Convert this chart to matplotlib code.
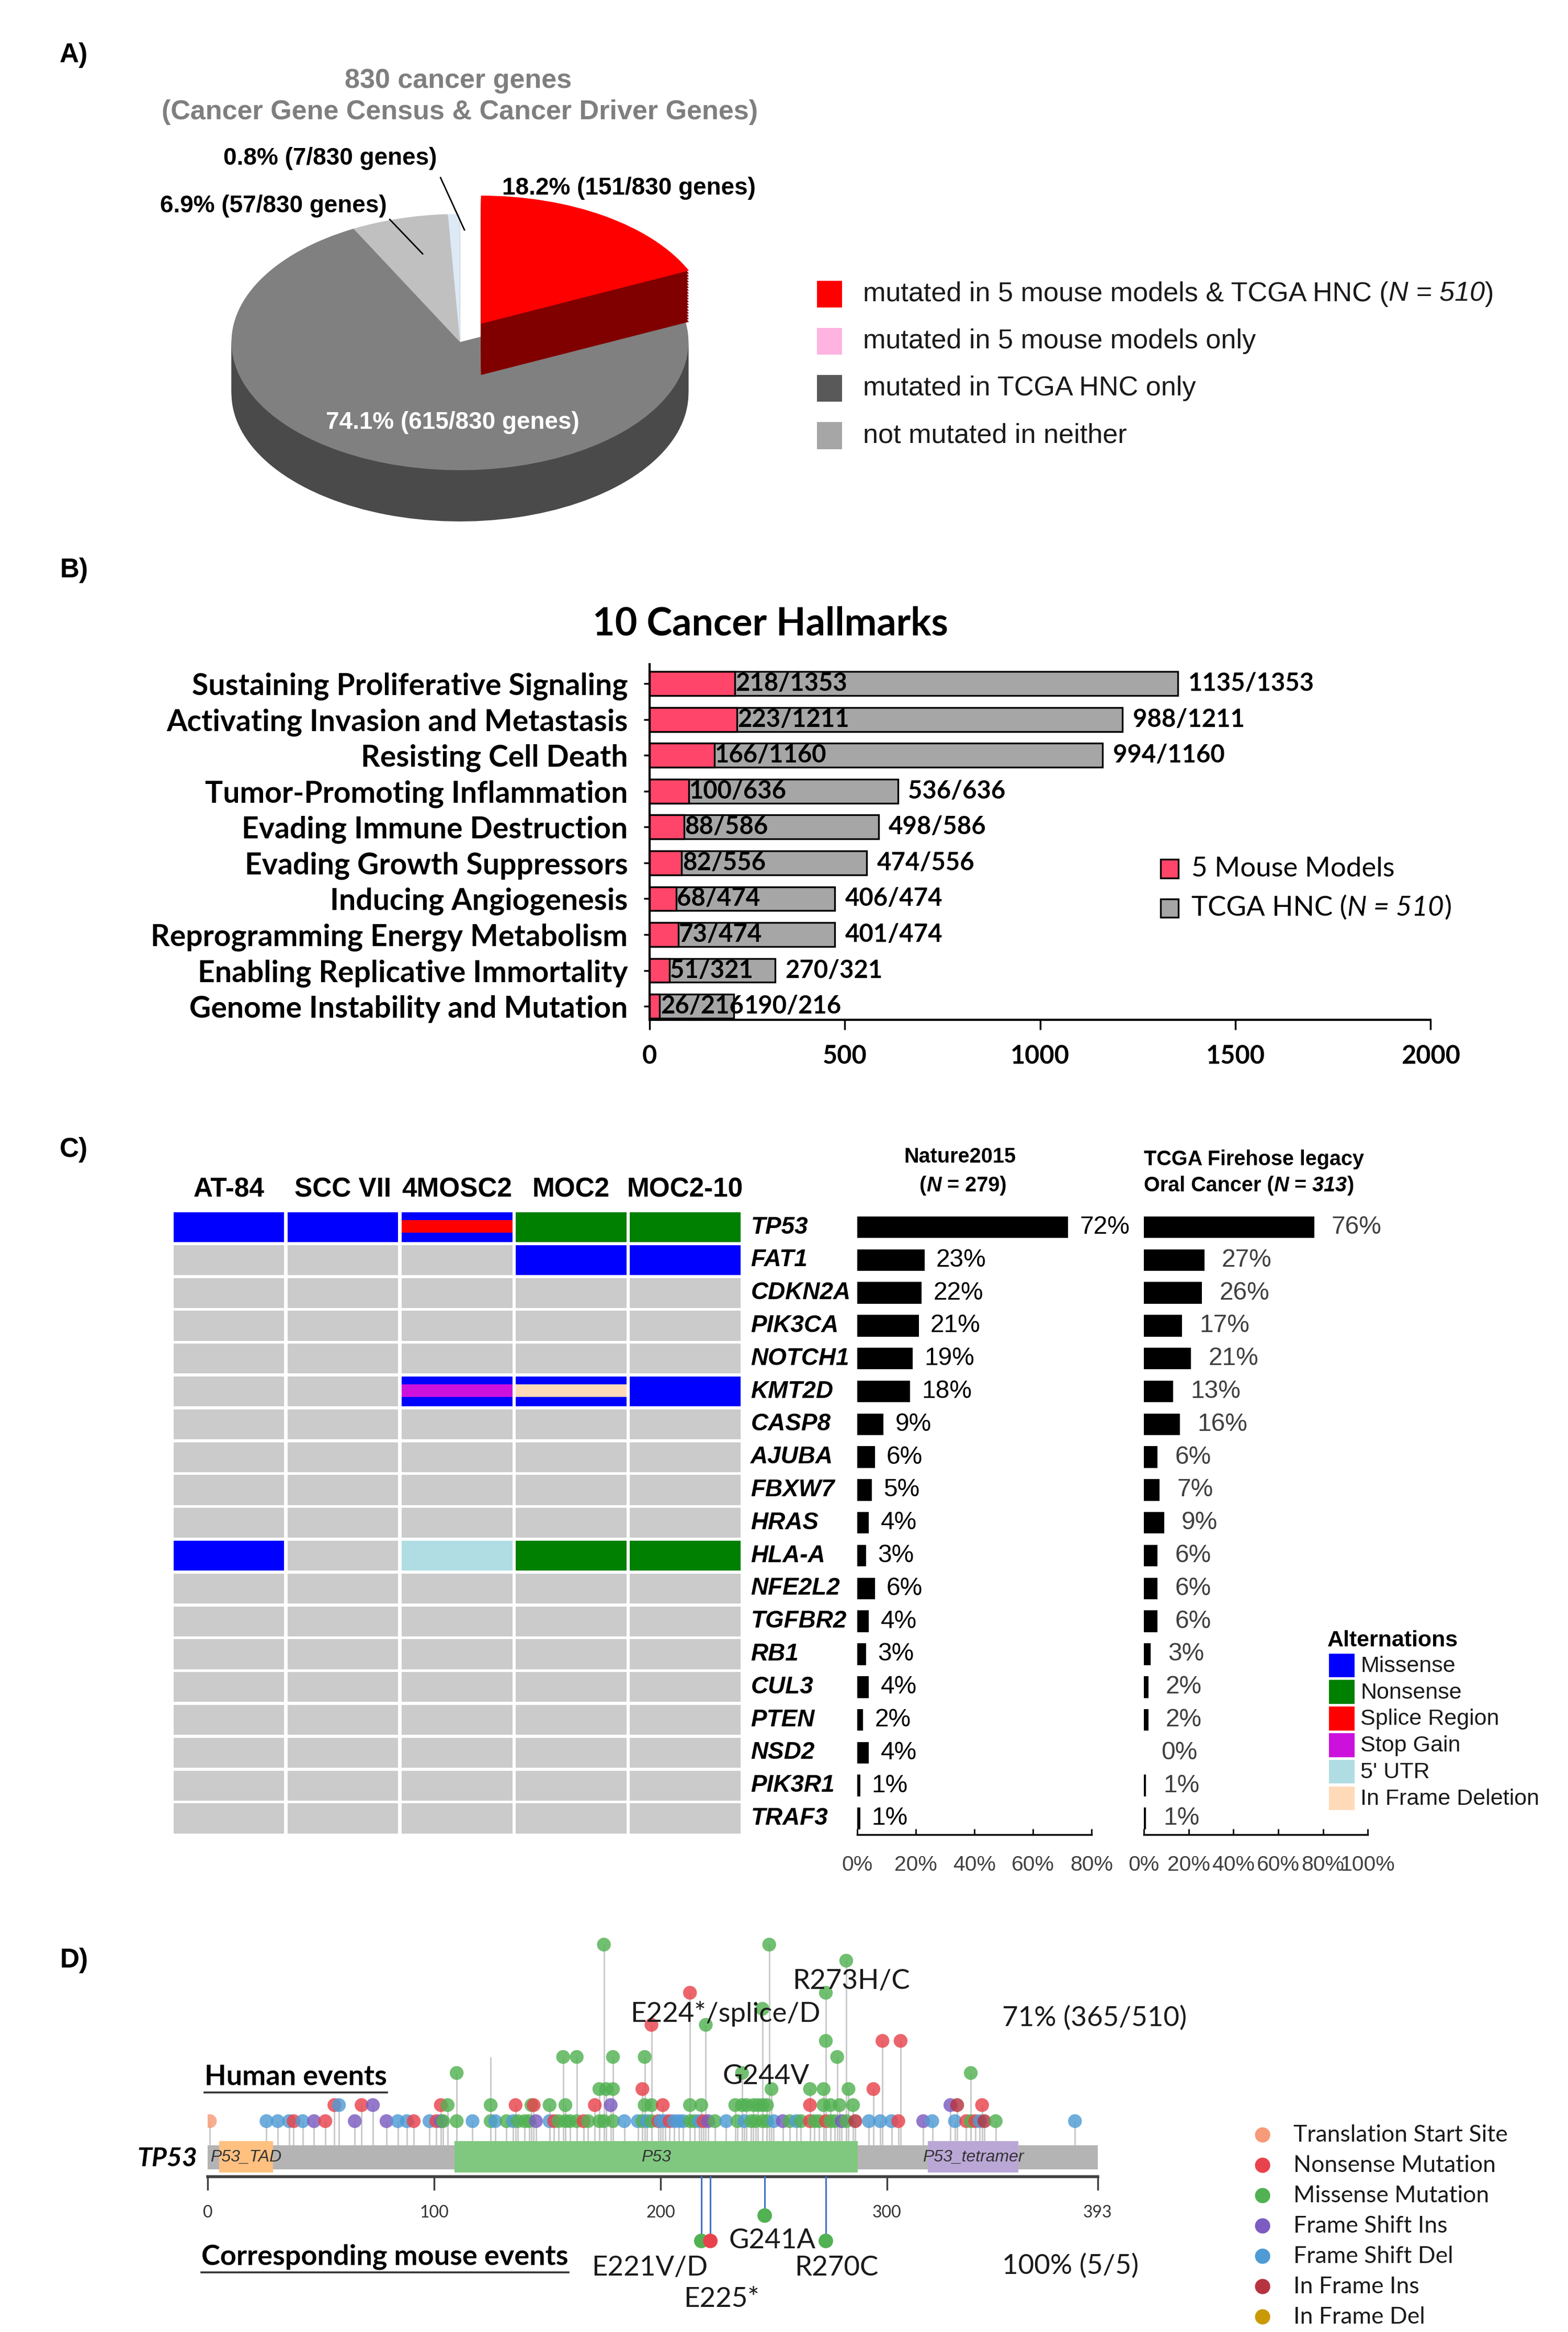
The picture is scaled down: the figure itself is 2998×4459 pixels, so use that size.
import numpy as np
import matplotlib
matplotlib.use("Agg")
import matplotlib.pyplot as plt
from matplotlib import font_manager as fm
from matplotlib.patches import Rectangle
from matplotlib.lines import Line2D

# ====================== DATA ======================
# Panel A
pie_counts = [151, 615, 57, 7]          # clockwise from 12 o'clock
pie_total = 830
pie_top_colors = ["#ff0000", "#808080", "#c0c0c0", "#dde9f5"]
pie_side_colors = ["#800000", "#4a4a4a", "#8e8e8e", "#aab6c4"]
pie_explode = [0.17, 0, 0, 0]
legend_a_labels = ["mutated in 5 mouse models & TCGA HNC", "mutated in 5 mouse models only",
                   "mutated in TCGA HNC only", "not mutated in neither"]
legend_a_colors = ["#ff0000", "#ffb3e0", "#595959", "#a6a6a6"]

# Panel B
hallmarks = ["Sustaining Proliferative Signaling", "Activating Invasion and Metastasis",
             "Resisting Cell Death", "Tumor-Promoting Inflammation", "Evading Immune Destruction",
             "Evading Growth Suppressors", "Inducing Angiogenesis", "Reprogramming Energy Metabolism",
             "Enabling Replicative Immortality", "Genome Instability and Mutation"]
hallmark_mouse = [218, 223, 166, 100, 88, 82, 68, 73, 51, 26]
hallmark_tcga = [1135, 988, 994, 536, 498, 474, 406, 401, 270, 190]
hallmark_total = [1353, 1211, 1160, 636, 586, 556, 474, 474, 321, 216]
hallmark_ticks = [0, 500, 1000, 1500, 2000]

# Panel C
cell_lines = ["AT-84", "SCC VII", "4MOSC2", "MOC2", "MOC2-10"]
genes = ["TP53", "FAT1", "CDKN2A", "PIK3CA", "NOTCH1", "KMT2D", "CASP8", "AJUBA", "FBXW7", "HRAS",
         "HLA-A", "NFE2L2", "TGFBR2", "RB1", "CUL3", "PTEN", "NSD2", "PIK3R1", "TRAF3"]
nature_pct = [72, 23, 22, 21, 19, 18, 9, 6, 5, 4, 3, 6, 4, 3, 4, 2, 4, 1, 1]
tcga_pct = [76, 27, 26, 17, 21, 13, 16, 6, 7, 9, 6, 6, 6, 3, 2, 2, 0, 1, 1]
onco_main = {
    "TP53": ["Missense", "Missense", "Missense", "Nonsense", "Nonsense"],
    "FAT1": ["", "", "", "Missense", "Missense"],
    "KMT2D": ["", "", "Missense", "Missense", "Missense"],
    "HLA-A": ["Missense", "", "5' UTR", "Nonsense", "Nonsense"],
}
onco_stripe = {
    "TP53": ["", "", "Splice Region", "", ""],
    "KMT2D": ["", "", "Stop Gain", "In Frame Deletion", ""],
}
alt_names = ["Missense", "Nonsense", "Splice Region", "Stop Gain", "5' UTR", "In Frame Deletion"]
alt_colors = ["#0000ff", "#008000", "#ff0000", "#cc11dd", "#b0dde3", "#ffdab9"]
nature_ticks = [0, 20, 40, 60, 80]
tcga_ticks = [0, 20, 40, 60, 80, 100]

# Panel D  (human TP53 lollipops: position, count, type)
lolli_pos = [1, 26, 31, 36, 38, 42, 47, 52, 65, 79, 84, 88, 91, 98, 101, 103, 104, 110, 117, 125,
             127, 132, 135, 137, 140, 142, 145, 151, 153, 155, 158, 160, 163, 166, 168, 173, 175, 179,
             184, 190, 192, 194, 196, 199, 200, 202, 204, 206, 208, 210, 213, 215, 217, 219, 221, 224,
             229, 234, 237, 240, 242, 245, 247, 250, 254, 257, 260, 262, 266, 268, 270, 273, 275, 277,
             280, 282, 286, 292, 297, 302, 305, 316, 320, 330, 335, 337, 339, 341, 343, 348, 383,
             56, 58, 68, 73, 103, 106, 125, 136, 143, 144, 151, 158, 171, 178, 193, 196, 201, 213, 218,
             233, 236, 238, 241, 243, 245, 247, 266, 272, 275, 279, 285, 328, 331, 342,
             173, 176, 179, 192, 249, 266, 272, 283, 294,
             110, 236, 337,
             157, 163, 179, 193, 278,
             273, 298, 306,
             196, 220,
             245,
             213, 273,
             282,
             175, 248]
lolli_count = [1] * 91 + [2] * 34 + [3] * 9 + [4] * 3 + [5] * 5 + [6] * 3 + [7] * 2 + [8] + [9] * 2 + [11] + [12] * 2
lolli_type = ["TSS", "FSD", "FSD", "FSD", "NON", "FSD", "FSI", "NON", "FSI", "FSI", "FSD", "FSD", "NON", "FSD",
              "NON", "FSI", "MIS", "MIS", "FSD", "MIS", "FSD", "MIS", "FSD", "MIS", "MIS", "MIS", "FSI", "FSD",
              "NON", "MIS", "MIS", "MIS", "MIS", "NON", "MIS", "MIS", "MIS", "MIS", "FSD", "FSD", "MIS", "FSD",
              "MIS", "NON", "FSD", "FSD", "NON", "FSD", "FSD", "FSD", "MIS", "MIS", "FSD", "NON", "FSI", "MIS",
              "FSD", "MIS", "FSD", "MIS", "MIS", "MIS", "MIS", "FSD", "FSI", "MIS", "FSD", "MIS", "NON", "MIS",
              "MIS", "NON", "MIS", "MIS", "FSI", "MIS", "IFI", "FSD", "FSD", "FSD", "NON", "FSI", "FSD", "FSD",
              "NON", "MIS", "NON", "FSD", "IFI", "MIS", "FSD",
              "NON", "FSD", "NON", "FSI", "NON", "MIS", "MIS", "NON", "MIS", "NON", "MIS", "MIS", "NON", "FSI",
              "MIS", "MIS", "NON", "MIS", "MIS", "MIS", "MIS", "MIS", "MIS", "MIS", "MIS", "MIS", "NON", "MIS",
              "MIS", "MIS", "MIS", "FSI", "IFI", "NON",
              "MIS", "MIS", "MIS", "NON", "MIS", "MIS", "MIS", "MIS", "NON",
              "MIS", "MIS", "MIS",
              "MIS", "MIS", "MIS", "MIS", "MIS",
              "MIS", "NON", "NON",
              "NON", "MIS",
              "MIS",
              "NON", "MIS",
              "MIS",
              "MIS", "MIS"]
stem_only_pos = [125]
stem_only_count = [5]
protein_length = 393
domain_names = ["P53_TAD", "P53", "P53_tetramer"]
domain_start = [5, 109, 318]
domain_end = [29, 287, 358]
domain_colors = ["#ffc080", "#80c880", "#baa7d6"]
protein_ticks = [0, 100, 200, 300, 393]
mouse_pos = [218, 222, 246, 273]
mouse_depth = [2, 2, 1, 2]
mouse_type = ["MIS", "NON", "MIS", "MIS"]
mouse_labels = ["E221V/D", "E225*", "G241A", "R270C"]
mut_names = ["Translation Start Site", "Nonsense Mutation", "Missense Mutation", "Frame Shift Ins",
             "Frame Shift Del", "In Frame Ins", "In Frame Del"]
mut_keys = ["TSS", "NON", "MIS", "FSI", "FSD", "IFI", "IFD"]
mut_colors = ["#f79a78", "#e8434c", "#52b152", "#7c5cc0", "#4f9bd5", "#b5343f", "#c99a06"]

# ====================== FONTS ======================
available = {f.name for f in fm.fontManager.ttflist}


def pick(*names):
    for n in names:
        if n in available:
            return n
    return None


ARIAL = pick("Liberation Sans", "Arial") or "DejaVu Sans"
NARROW = pick("Liberation Sans Narrow", "Arial Narrow")
HAS_NARROW = NARROW is not None
if not HAS_NARROW:
    NARROW = ARIAL
CAL = pick("Lato", "Open Sans", "Liberation Sans") or "DejaVu Sans"
plt.rcParams["font.family"] = [ARIAL, "DejaVu Sans"]


def nsz(s):
    return s if HAS_NARROW else s * 0.84


# ====================== FIGURE ======================
W, H = 1050.0, 1562.0
fig = plt.figure(figsize=(29.98, 44.59), dpi=100)
fig.patch.set_facecolor("white")
renderer = fig.canvas.get_renderer()


def FX(x):
    return x / W


def FY(y):
    return 1 - y / H


def add_ax(x0, y0, x1, y1):
    return fig.add_axes([x0 / W, 1 - y1 / H, (x1 - x0) / W, (y1 - y0) / H])


def ftext(x, y, s, **kw):
    return fig.text(FX(x), FY(y), s, **kw)


def rich_text(x, y, parts, ha="left", va="center", **common):
    objs, widths = [], []
    for s, extra in parts:
        kw = dict(common)
        kw.update(extra)
        t = fig.text(0, FY(y), s, ha="left", va=va, **kw)
        widths.append(t.get_window_extent(renderer=renderer).width)
        objs.append(t)
    total = sum(widths)
    xp = FX(x) * fig.bbox.width
    if ha == "center":
        xp -= total / 2
    elif ha == "right":
        xp -= total
    for t, w in zip(objs, widths):
        t.set_x(xp / fig.bbox.width)
        xp += w
    return objs


def fig_rect(x0, y0, x1, y1, color, ec="none", lw=0):
    fig.add_artist(Rectangle((FX(x0), FY(y1)), (x1 - x0) / W, (y1 - y0) / H,
                             transform=fig.transFigure, facecolor=color, edgecolor=ec, linewidth=lw))


def fig_line(x0, y0, x1, y1, **kw):
    fig.add_artist(Line2D([FX(x0), FX(x1)], [FY(y0), FY(y1)], transform=fig.transFigure, **kw))


def underline(t, dy, **kw):
    bb = t.get_window_extent(renderer=renderer)
    x0 = bb.x0 / fig.bbox.width
    x1 = bb.x1 / fig.bbox.width
    y = t.get_position()[1] - dy / H
    fig.add_artist(Line2D([x0, x1], [y, y], transform=fig.transFigure, **kw))


panel_kw = dict(fontfamily=ARIAL, fontweight="bold", fontsize=37, ha="left", va="center")

# ---------------------- Panel A ----------------------
ftext(40, 37, "A)", **panel_kw)
ftext(307, 54, "830 cancer genes", color="#7f7f7f", fontweight="bold", fontsize=37.5,
      ha="center", va="center")
ftext(308, 75, "(Cancer Gene Census & Cancer Driver Genes)", color="#7f7f7f", fontweight="bold",
      fontsize=37.5, ha="center", va="center")

axA = add_ax(140, 115, 480, 375)
pie_depth = 0.40
nstack = 18


def pie_layer(colors, dy):
    axA.pie(pie_counts, colors=colors, startangle=90, counterclock=False, explode=pie_explode,
            center=(0, dy), radius=1.0, wedgeprops=dict(linewidth=0))


for k in range(nstack, 0, -1):
    pie_layer(["none"] + pie_side_colors[1:], -pie_depth * k / nstack)
pie_layer(["none"] + pie_top_colors[1:], 0)
for k in range(nstack, 0, -1):
    pie_layer([pie_side_colors[0], "none", "none", "none"], -pie_depth * k / nstack)
pie_layer([pie_top_colors[0], "none", "none", "none"], 0)
axA.set_aspect("auto")
axA.set_xlim(-1.098, 1.124)
axA.set_ylim(-1.70, 1.33)
axA.axis("off")

pie_text = ["%.1f%% (%d/%d genes)" % (100.0 * c / pie_total, c, pie_total) for c in pie_counts]
pie_text_xy = [(421, 126), (303, 283), (183, 138), (221, 106)]
pie_text_col = ["black", "white", "black", "black"]
for s, (x, y), c in zip(pie_text, pie_text_xy, pie_text_col):
    ftext(x, y, s, fontsize=33, fontweight="bold", color=c, ha="center", va="center")
fig_line(295, 119, 311, 154, color="black", lw=2)
fig_line(261, 147, 283, 170, color="black", lw=2)

for i, (lab, col) in enumerate(zip(legend_a_labels, legend_a_colors)):
    yc = 197 + 31.6 * i
    fig_rect(547, yc - 9, 564, yc + 9, col)
    if i == 0:
        rich_text(578, yc, [(lab + " (", {}), ("N = 510", {"fontstyle": "italic"}), (")", {})],
                  fontsize=37.5, color="#1a1a1a")
    else:
        ftext(578, yc, lab, fontsize=37.5, ha="left", va="center", color="#1a1a1a")

# ---------------------- Panel B ----------------------
ftext(40, 382, "B)", **panel_kw)
ftext(516, 418, "10 Cancer Hallmarks", fontfamily=CAL, fontweight="bold", fontsize=53,
      ha="center", va="center")
axB = add_ax(435, 445, 958, 683)
yb = np.arange(len(hallmarks))
axB.barh(yb, hallmark_total, height=0.67, color="#a6a6a6", edgecolor="black", linewidth=2.4, zorder=2)
axB.barh(yb, hallmark_mouse, height=0.67, color="#ff4569", edgecolor="black", linewidth=2.4, zorder=3)
axB.set_xlim(0, 2000)
axB.set_ylim(9.375, -0.54)
for sp in ["top", "right"]:
    axB.spines[sp].set_visible(False)
for sp in ["left", "bottom"]:
    axB.spines[sp].set_linewidth(3)
axB.set_xticks(hallmark_ticks)
axB.set_xticklabels([str(t) for t in hallmark_ticks], fontfamily=CAL, fontweight="bold", fontsize=35)
axB.set_yticks(yb)
axB.set_yticklabels(hallmarks, fontfamily=CAL, fontweight="bold", fontsize=41)
axB.tick_params(axis="x", length=14, width=2.5, pad=20)
axB.tick_params(axis="y", length=8, width=2.5, pad=22)
for i in range(len(hallmarks)):
    axB.annotate("%d/%d" % (hallmark_mouse[i], hallmark_total[i]), (hallmark_mouse[i], yb[i]),
                 xytext=(1, 0), textcoords="offset points", ha="left", va="center",
                 fontfamily=CAL, fontweight="bold", fontsize=34, zorder=5)
    axB.annotate("%d/%d" % (hallmark_tcga[i], hallmark_total[i]), (hallmark_total[i], yb[i]),
                 xytext=(14, 0), textcoords="offset points", ha="left", va="center",
                 fontfamily=CAL, fontweight="bold", fontsize=34, zorder=5)
fig_rect(777, 575.5, 789, 588, "#ff4569", ec="black", lw=2.4)
fig_rect(777, 602, 789, 614.5, "#a6a6a6", ec="black", lw=2.4)
ftext(798, 582, "5 Mouse Models", fontfamily=CAL, fontsize=38, ha="left", va="center")
rich_text(798, 608, [("TCGA HNC (", {}), ("N = 510", {"fontstyle": "italic"}), (")", {})],
          fontfamily=CAL, fontsize=38)

# ---------------------- Panel C ----------------------
ftext(40, 770, "C)", **panel_kw)
alt_map = dict(zip(alt_names, alt_colors))
axO = add_ax(115, 811, 497, 1229)
ng, nc = len(genes), len(cell_lines)
rows = np.arange(ng)
cell_h, cell_w = 0.91, 0.97
for j in range(nc):
    cols = [alt_map.get(onco_main.get(g, [""] * nc)[j], "#cbcbcb") for g in genes]
    axO.bar(np.full(ng, j), np.full(ng, cell_h), bottom=rows - cell_h / 2, width=cell_w, color=cols,
            linewidth=0)
    srows = [i for i, g in enumerate(genes) if onco_stripe.get(g, [""] * nc)[j]]
    if srows:
        scol = [alt_map[onco_stripe[genes[i]][j]] for i in srows]
        sh = 0.38
        axO.bar(np.full(len(srows), j), np.full(len(srows), sh), bottom=np.array(srows) - sh / 2 - 0.02,
                width=cell_w, color=scol, linewidth=0)
axO.set_xlim(-0.5, nc - 0.5)
axO.set_ylim(ng - 0.5, -0.5)
axO.axis("off")
for j, name in enumerate(cell_lines):
    axO.text(j, -1.14, name, ha="center", va="center", fontweight="bold", fontsize=37, clip_on=False)
for i, g in enumerate(genes):
    axO.text(nc - 0.5 + 0.075, i, g, ha="left", va="center", fontweight="bold", fontstyle="italic",
             fontsize=33, clip_on=False)


def pct_axis(x0, x1, vals, xmax, ticks, color, offset):
    ax = add_ax(x0, 811, x1, 1229)
    ax.barh(rows, vals, height=0.66, color="black", linewidth=0)
    ax.set_xlim(0, xmax)
    ax.set_ylim(ng - 0.5, -0.5)
    for sp in ["top", "right", "left"]:
        ax.spines[sp].set_visible(False)
    ax.spines["bottom"].set_linewidth(2.5)
    ax.set_yticks([])
    ax.set_xticks(ticks)
    ax.set_xticklabels(["%d%%" % t for t in ticks], fontfamily=NARROW, fontsize=nsz(35), color="#404040")
    ax.tick_params(axis="x", direction="in", length=8, width=2, pad=28)
    for i, v in enumerate(vals):
        ax.annotate("%d%%" % v, (v, rows[i]), xytext=(offset, 0), textcoords="offset points",
                    ha="left", va="center", fontfamily=NARROW, fontsize=nsz(41), color=color,
                    annotation_clip=False)
    return ax


pct_axis(574, 731, nature_pct, 80, nature_ticks, "black", 16)
pct_axis(766, 916, tcga_pct, 100, tcga_ticks, "#404040", 24)
ftext(643, 775, "Nature2015", fontfamily=NARROW, fontweight="bold", fontsize=nsz(34),
      ha="center", va="center")
rich_text(645, 794, [("(", {}), ("N", {"fontstyle": "italic"}), (" = 279)", {})], ha="center",
          fontfamily=NARROW, fontweight="bold", fontsize=nsz(34))
ftext(766, 776.5, "TCGA Firehose legacy", fontfamily=NARROW, fontweight="bold", fontsize=nsz(34),
      ha="left", va="center")
rich_text(766, 794, [("Oral Cancer (", {}), ("N", {"fontstyle": "italic"}), (" =", {}),
                     (" 313", {"fontstyle": "italic"}), (")", {})],
          fontfamily=NARROW, fontweight="bold", fontsize=nsz(34))
ftext(889, 1099, "Alternations", fontweight="bold", fontsize=31, ha="left", va="center")
for i, (nm, col) in enumerate(zip(alt_names, alt_colors)):
    yc = 1115.5 + 17.8 * i
    fig_rect(890, yc - 8, 907, yc + 8, col)
    ftext(911, yc + 0.5, nm, fontsize=31, ha="left", va="center", color="#1a1a1a")

# ---------------------- Panel D ----------------------
ftext(40, 1313, "D)", **panel_kw)
mut_map = dict(zip(mut_keys, mut_colors))
axD = add_ax(139, 1295, 735, 1458)
axD.set_xlim(0, protein_length)
axD.set_ylim(-2.465, 12.7)
bar_lo, bar_hi = -2.0, -0.51
axD.add_patch(Rectangle((0, bar_lo), protein_length, bar_hi - bar_lo, facecolor="#b4b4b4",
                        edgecolor="none", zorder=1))
for nm, s, e, c in zip(domain_names, domain_start, domain_end, domain_colors):
    axD.add_patch(Rectangle((s, -2.19), e - s, 1.96, facecolor=c, edgecolor="none", zorder=2))
    axD.text((s + e) / 2, (bar_lo + bar_hi) / 2, nm, ha="center", va="center", fontstyle="italic",
             fontsize=23, color="#333333", zorder=3)
axD.vlines(lolli_pos, bar_hi, lolli_count, color="#c8c8c8", linewidth=2, zorder=0.5)
axD.vlines(stem_only_pos, bar_hi, stem_only_count, color="#c8c8c8", linewidth=2, zorder=0.5)
axD.scatter(lolli_pos, lolli_count, s=19 ** 2, c=[mut_map[t] for t in lolli_type], alpha=0.82,
            linewidths=0, zorder=4)
for sp in ["top", "right", "left"]:
    axD.spines[sp].set_visible(False)
axD.spines["bottom"].set_linewidth(4)
axD.spines["bottom"].set_color("#404040")
axD.set_yticks([])
axD.set_xticks(protein_ticks)
axD.set_xticklabels([str(t) for t in protein_ticks], fontfamily=CAL, fontsize=23, color="#333333")
axD.tick_params(axis="x", length=19, width=2.5, color="#404040", pad=20)
axD.patch.set_alpha(0)

axM = add_ax(139, 1457.5, 735, 1530)
axM.set_xlim(0, protein_length)
axM.set_ylim(3.706, -0.559)
axM.vlines(mouse_pos, -0.559, mouse_depth, color="#4472c4", linewidth=2.2)
axM.scatter(mouse_pos, mouse_depth, s=20 ** 2, c=[mut_map[t] for t in mouse_type], linewidths=0, zorder=3)
axM.axis("off")
axM.patch.set_alpha(0)

lab_kw = dict(fontfamily=CAL, fontsize=38, color="#1a1a1a", va="center")
ftext(422, 1349, "E224*/splice/D", ha="left", **lab_kw)
ftext(570, 1327, "R273H/C", ha="center", **lab_kw)
ftext(513, 1391, "G244V", ha="center", **lab_kw)
ftext(671, 1352, "71% (365/510)", ha="left", **lab_kw)
mouse_label_xy = [(435, 1519), (483, 1540), (517, 1501), (560, 1519)]
for s, (x, y) in zip(mouse_labels, mouse_label_xy):
    ftext(x, y, s, ha="center", **lab_kw)
ftext(671, 1518, "100% (5/5)", ha="left", **lab_kw)
ftext(132, 1446, "TP53", fontfamily=CAL, fontweight="bold", fontstyle="italic", fontsize=36,
      ha="right", va="center")
t1 = ftext(137, 1396.5, "Human events", fontfamily=CAL, fontweight="bold", fontsize=39,
           ha="left", va="baseline")
underline(t1, 5, color="#333333", lw=2.6)
t2 = ftext(135, 1517, "Corresponding mouse events", fontfamily=CAL, fontweight="bold", fontsize=39,
           ha="left", va="baseline")
underline(t2, 5, color="#333333", lw=2.6)

axL = add_ax(830, 1419.85, 1040, 1562)
axL.set_xlim(830, 1040)
axL.set_ylim(len(mut_names) - 0.5, -0.5)
axL.scatter(np.full(len(mut_names), 845.5), np.arange(len(mut_names)), s=21 ** 2, c=mut_colors, linewidths=0)
for i, nm in enumerate(mut_names):
    axL.text(866, i, nm, ha="left", va="center", fontfamily=CAL, fontsize=32, color="#1a1a1a")
axL.axis("off")

fig.savefig("out.png", dpi=100, facecolor="white")
